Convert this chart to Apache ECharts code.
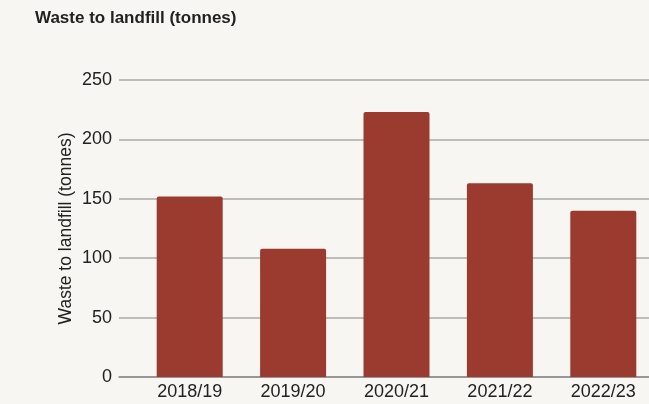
<!DOCTYPE html>
<html>
<head>
<meta charset="utf-8">
<script src="https://cdn.jsdelivr.net/npm/echarts@6/dist/echarts.min.js"></script>
<style>
html,body{margin:0;padding:0;background:#f7f6f2;}
#c{width:649px;height:404px;}
</style>
</head>
<body>
<div id="c"></div>
<script>
var categories = ['2018/19', '2019/20', '2020/21', '2021/22', '2022/23'];
var wasteToLandfill = [152, 108, 223, 163, 140];
var yMin = 0, yMax = 250, yStep = 50;
var titleText = 'Waste to landfill (tonnes)';
var yAxisName = 'Waste to landfill (tonnes)';

var chart = echarts.init(document.getElementById('c'), null, {renderer: 'canvas'});
var font = '"Liberation Sans", Arial, sans-serif';
chart.setOption({
  backgroundColor: '#f7f6f2',
  animation: false,
  title: {
    text: titleText,
    left: 30, top: 5,
    textStyle: {fontFamily: font, fontWeight: 'bold', fontSize: 17, color: '#222222'}
  },
  grid: [
    {left: 119, right: 0, top: 80, bottom: 27},
    {left: 138, width: 517, top: 80, bottom: 27, outerBoundsMode: 'none', containLabel: false}
  ],
  xAxis: [
    {type: 'value', gridIndex: 0, min: 0, max: 1, show: true,
     axisLine: {show: true, lineStyle: {color: '#8a8a8a', width: 1.5}},
     axisTick: {show: false}, axisLabel: {show: false}, splitLine: {show: false}},
    {type: 'category', gridIndex: 1, data: categories,
     axisLine: {show: false}, axisTick: {show: false},
     axisLabel: {fontFamily: font, fontSize: 18, color: '#222222', margin: 6}}
  ],
  yAxis: [
    {type: 'value', gridIndex: 0, min: yMin, max: yMax, interval: yStep,
     name: yAxisName, nameLocation: 'middle', nameGap: 44, nameMoveOverlap: false,
     nameTextStyle: {fontFamily: font, fontSize: 17.5, color: '#222222'},
     axisLine: {show: false}, axisTick: {show: false},
     axisLabel: {fontFamily: font, fontSize: 18, color: '#222222', margin: 7},
     splitLine: {show: true, lineStyle: {color: '#a8a8a8', width: 1.5}}},
    {type: 'value', gridIndex: 1, min: yMin, max: yMax, interval: yStep, show: false,
     splitLine: {show: false}}
  ],
  series: [{
    type: 'bar', xAxisIndex: 1, yAxisIndex: 1,
    data: wasteToLandfill, barWidth: 66,
    itemStyle: {color: '#9b3a2f', borderRadius: [2, 2, 0, 0]}
  }]
});
</script>
</body>
</html>
